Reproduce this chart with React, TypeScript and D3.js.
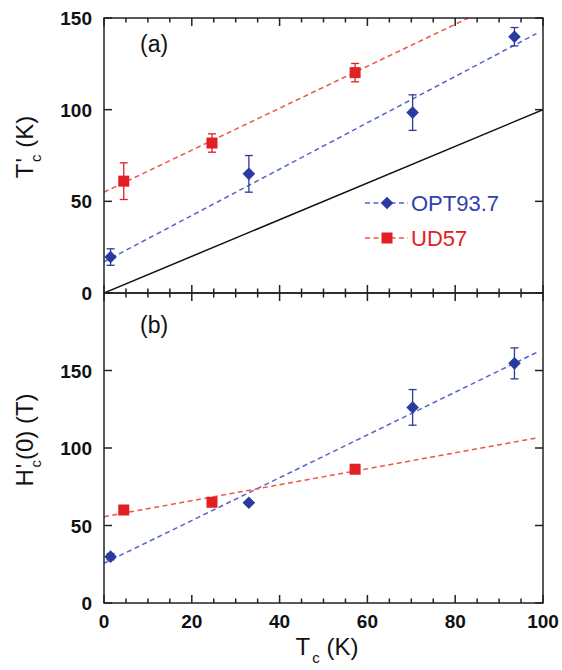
import React from 'react'
import * as d3 from 'd3'

// panel (a): T'c vs Tc
const optTc = [1.5, 33, 70.3, 93.5]
const optTpA = [19.6, 65, 98.4, 139.8]
const optErrA = [4.5, 10, 9.7, 5]
const udTc = [4.5, 24.6, 57.2]
const udTpA = [61, 81.8, 120.2]
const udErrA = [10, 5, 5]

// panel (b): H'c(0) vs Tc
const optHb = [29.9, 64.7, 126.2, 154.6]
const optErrB = [2, 0, 11.5, 10]
const udHb = [60, 65, 86.3]
const udErrB = [0, 0, 0]

// dashed guide lines (end points)
const optFitA = [[0, 17], [98.5, 141.5]]
const udFitA = [[0, 55], [83, 150]]
const diagA = [[0, 0], [100, 100]]
const optFitB = [[0, 25.6], [98.8, 162]]
const udFitB = [[0, 55.7], [98.8, 106.6]]

const xTicks = d3.range(0, 101, 5)
const xLabels = [0, 20, 40, 60, 80, 100]
const yTicksA = [0, 50, 100, 150]
const yTicksB = [0, 50, 100, 150]

const BLUE = '#2b3aa0'
const BLUE_LINE = '#5563cc'
const RED = '#e02024'
const RED_LINE = '#f05540'
const AXIS = '#222'
const FONT = 'Liberation Sans, Arial, Helvetica, sans-serif'

const left = 104, right = 543
const topA = 18, botA = 293, botB = 603

function Diamond({ x, y, r = 6.3, color }) {
  return <path d={`M${x},${y - r}L${x + r},${y}L${x},${y + r}L${x - r},${y}Z`} fill={color} />
}

function Square({ x, y, s = 11, color }) {
  return <rect x={x - s / 2} y={y - s / 2} width={s} height={s} fill={color} />
}

function ErrBar({ x, y0, y1, color }) {
  if (Math.abs(y1 - y0) < 1) return null
  return (
    <g stroke={color} strokeWidth={1.3}>
      <line x1={x} x2={x} y1={y0} y2={y1} />
      <line x1={x - 4} x2={x + 4} y1={y0} y2={y0} />
      <line x1={x - 4} x2={x + 4} y1={y1} y2={y1} />
    </g>
  )
}

function Frame({ x, y, yTicks, top, bottom }) {
  return (
    <g stroke={AXIS} strokeWidth={1.5}>
      <rect x={left} y={top} width={right - left} height={bottom - top} fill="none" />
      {xTicks.map(t => {
        const len = t % 20 === 0 ? 8 : 4.5
        return (
          <g key={t}>
            <line x1={x(t)} x2={x(t)} y1={bottom} y2={bottom - len} />
            <line x1={x(t)} x2={x(t)} y1={top} y2={top + len} />
          </g>
        )
      })}
      {yTicks.map(t => (
        <g key={t}>
          <line x1={left} x2={left + 8} y1={y(t)} y2={y(t)} />
          <line x1={right} x2={right - 8} y1={y(t)} y2={y(t)} />
        </g>
      ))}
    </g>
  )
}

export default function App() {
  const x = d3.scaleLinear().domain([0, 100]).range([left, right])
  const yA = d3.scaleLinear().domain([0, 150]).range([botA, topA])
  const yB = d3.scaleLinear().domain([0, 200]).range([botB, botA])

  const lineA = d3.line().x(d => x(d[0])).y(d => yA(d[1]))
  const lineB = d3.line().x(d => x(d[0])).y(d => yB(d[1]))

  return (
    <svg width={562} height={670} style={{ position: 'absolute', left: 0, top: 0, background: '#fff' }}
      fontFamily={FONT}>
      <defs>
        <clipPath id="clipA"><rect x={left} y={topA} width={right - left} height={botA - topA} /></clipPath>
        <clipPath id="clipB"><rect x={left} y={botA} width={right - left} height={botB - botA} /></clipPath>
      </defs>

      {/* panel (a) */}
      <g clipPath="url(#clipA)" fill="none" strokeWidth={1.5}>
        <path d={lineA(diagA)} stroke="#111" />
        <path d={lineA(optFitA)} stroke={BLUE_LINE} strokeDasharray="5,3.5" />
        <path d={lineA(udFitA)} stroke={RED_LINE} strokeDasharray="5,3.5" />
      </g>
      {optTc.map((t, i) => (
        <g key={'oa' + i}>
          <ErrBar x={x(t)} y0={yA(optTpA[i] - optErrA[i])} y1={yA(optTpA[i] + optErrA[i])} color={BLUE} />
          <Diamond x={x(t)} y={yA(optTpA[i])} color={BLUE} />
        </g>
      ))}
      {udTc.map((t, i) => (
        <g key={'ua' + i}>
          <ErrBar x={x(t)} y0={yA(udTpA[i] - udErrA[i])} y1={yA(udTpA[i] + udErrA[i])} color={RED} />
          <Square x={x(t)} y={yA(udTpA[i])} color={RED} />
        </g>
      ))}
      <Frame x={x} y={yA} yTicks={yTicksA} top={topA} bottom={botA} />

      {/* panel (b) */}
      <g clipPath="url(#clipB)" fill="none" strokeWidth={1.5}>
        <path d={lineB(optFitB)} stroke={BLUE_LINE} strokeDasharray="5,3.5" />
        <path d={lineB(udFitB)} stroke={RED_LINE} strokeDasharray="5,3.5" />
      </g>
      {optTc.map((t, i) => (
        <g key={'ob' + i}>
          <ErrBar x={x(t)} y0={yB(optHb[i] - optErrB[i])} y1={yB(optHb[i] + optErrB[i])} color={BLUE} />
          <Diamond x={x(t)} y={yB(optHb[i])} color={BLUE} />
        </g>
      ))}
      {udTc.map((t, i) => (
        <g key={'ub' + i}>
          <ErrBar x={x(t)} y0={yB(udHb[i] - udErrB[i])} y1={yB(udHb[i] + udErrB[i])} color={RED} />
          <Square x={x(t)} y={yB(udHb[i])} color={RED} />
        </g>
      ))}
      <Frame x={x} y={yB} yTicks={yTicksB} top={botA} bottom={botB} />

      {/* tick labels */}
      <g fontSize={19} fontWeight="bold" fill="#111" textAnchor="end">
        {yTicksA.map(t => (
          <text key={'la' + t} x={92} y={yA(t) + 7}>{t}</text>
        ))}
        {yTicksB.map(t => (
          <text key={'lb' + t} x={92} y={yB(t) + 7}>{t}</text>
        ))}
      </g>
      <g fontSize={19} fontWeight="bold" fill="#111" textAnchor="middle">
        {xLabels.map(t => (
          <text key={'lx' + t} x={x(t)} y={628}>{t}</text>
        ))}
      </g>

      {/* panel tags */}
      <text x={140} y={52} fontSize={23} fill="#111">(a)</text>
      <text x={140} y={333} fontSize={23} fill="#111">(b)</text>

      {/* legend */}
      <g strokeWidth={1.5} fill="none">
        <line x1={365} x2={408} y1={203} y2={203} stroke={BLUE_LINE} strokeDasharray="5,3.5" />
        <line x1={365} x2={408} y1={238} y2={238} stroke={RED_LINE} strokeDasharray="5,3.5" />
      </g>
      <Diamond x={387} y={203} color={BLUE} />
      <Square x={387} y={238} color={RED} />
      <text x={411} y={211} fontSize={22} fill="#3340b0">OPT93.7</text>
      <text x={411} y={246} fontSize={22} fill={RED}>UD57</text>

      {/* axis titles */}
      <text transform="translate(33,147) rotate(-90)" fontSize={24} fill="#111" textAnchor="middle">
        T<tspan dx={1}>'</tspan><tspan dx={-4} dy={8} fontSize={15}>c</tspan><tspan dy={-8}> (K)</tspan>
      </text>
      <text transform="translate(33,440) rotate(-90)" fontSize={24} fill="#111" textAnchor="middle">
        H<tspan dx={1}>'</tspan><tspan dx={-4} dy={8} fontSize={15}>c</tspan><tspan dy={-8}>(0) (T)</tspan>
      </text>
      <text x={327} y={655} fontSize={24} fill="#111" textAnchor="middle">
        T<tspan dx={2} dy={8} fontSize={15}>c</tspan><tspan dy={-8}> (K)</tspan>
      </text>
    </svg>
  )
}
